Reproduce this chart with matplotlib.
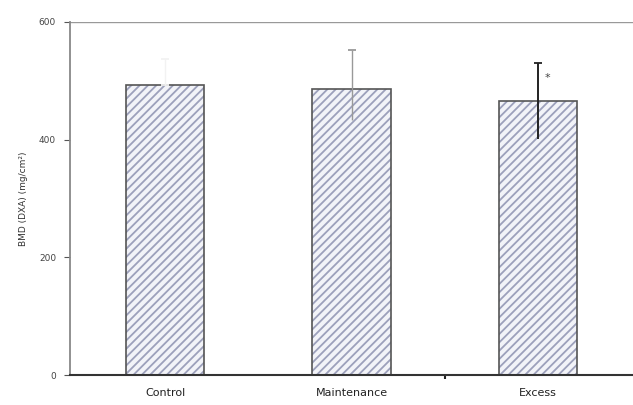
import matplotlib
matplotlib.use("Agg")
import matplotlib.pyplot as plt
import numpy as np

categories = ["Control", "Maintenance", "Excess"]
values = [493, 486, 466]
err_low = [0, 52, 65]
err_high = [44, 67, 65]
err_colors = ["#f2f2f2", "#999999", "#222222"]
cap_colors = ["#555555", "#999999", "#222222"]
yticks = [0, 200, 400, 600]

plt.rcParams['hatch.linewidth'] = 1.3

fig = plt.figure(figsize=(6.33, 4.05), dpi=100)
ax = fig.add_axes([0.1106, 0.074, 0.8894, 0.8717])
x = np.arange(len(categories))
ax.bar(x, values, width=0.42, color='#f2f3f8', edgecolor='#9ca0bb', linewidth=0, hatch='////', zorder=2)
ax.bar(x, values, width=0.42, fill=False, edgecolor='#555555', linewidth=1.2, zorder=2.5)
for i in range(len(categories)):
    _, caps, bars = ax.errorbar(x[i], values[i], yerr=[[err_low[i]], [err_high[i]]], fmt='none',
                                ecolor=err_colors[i], elinewidth=1.4 if i == 2 else 1.0,
                                capsize=3, capthick=1.3, zorder=3)
    for c in caps:
        c.set_color(cap_colors[i])
    if err_low[i] > 0:
        caps[0].set_visible(False)
ax.text(2.05, 505, "*", fontsize=8, color='#444444', ha='center', va='center')

ax.set_xlim(-0.51, 2.51)
ax.set_ylim(0, 600)
ax.set_yticks(yticks)
ax.set_yticklabels([str(t) for t in yticks], fontsize=6.5, color='#444444')
ax.axhline(600, color='#999999', linewidth=1.0, zorder=1)
ax.set_xticks(x)
ax.set_xticklabels(categories, fontsize=8, color='#222222')
ax.tick_params(axis='x', length=0, pad=9)
ax.set_xticks([1.5], minor=True)
ax.tick_params(axis='x', which='minor', length=3, width=1.5, color='#222222')
ax.tick_params(axis='y', length=4, color='#555555', pad=6)
for s in ['top', 'right']:
    ax.spines[s].set_visible(False)
ax.spines['left'].set_color('#888888')
ax.spines['left'].set_linewidth(1.3)
ax.spines['bottom'].set_color('#333333')
ax.spines['bottom'].set_linewidth(1.5)
ax.set_ylabel("BMD (DXA) (mg/cm²)", fontsize=6.5, color='#333333', labelpad=8)

fig.savefig("out.png", dpi=100, facecolor='white')
